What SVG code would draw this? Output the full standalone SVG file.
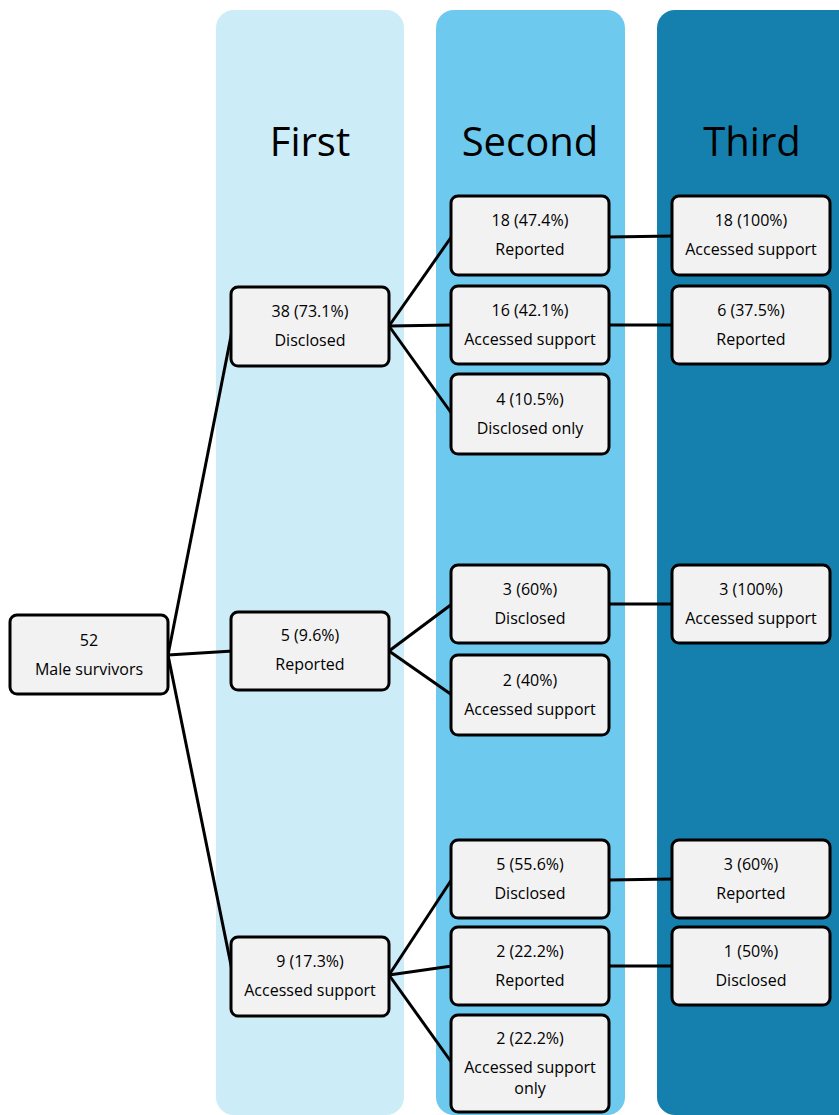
<svg xmlns="http://www.w3.org/2000/svg" width="839" height="1115" viewBox="0 0 839 1115">
<style>
.col{stroke:none}
.box{fill:#F2F2F2;stroke:#000;stroke-width:3}
.t{font-family:"Open Sans","Liberation Sans",sans-serif;font-size:16px;fill:#000;text-anchor:middle}
.h{font-family:"Open Sans","Liberation Sans",sans-serif;font-size:40px;fill:#000;text-anchor:middle}
.c{stroke:#000;stroke-width:3;fill:none}
</style>
<rect width="839" height="1115" fill="#fff"/>
<g id="columns">
<rect class="col" x="216" y="10" width="188" height="1105" rx="18" fill="#CCECF8"/>
<rect class="col" x="436" y="10" width="189" height="1105" rx="18" fill="#6DC9ED"/>
<rect class="col" x="657" y="10" width="200" height="1105" rx="18" fill="#1580AE"/>
<text class="h" x="310" y="156">First</text>
<text class="h" x="530" y="156">Second</text>
<text class="h" x="752" y="156">Third</text>
</g>
<g id="connectors">
<line class="c" x1="168" y1="655" x2="233" y2="326"/>
<line class="c" x1="168" y1="655" x2="233" y2="651"/>
<line class="c" x1="168" y1="655" x2="233" y2="975"/>
<line class="c" x1="389" y1="326" x2="452" y2="236"/>
<line class="c" x1="389" y1="326" x2="452" y2="325"/>
<line class="c" x1="389" y1="326" x2="452" y2="414"/>
<line class="c" x1="389" y1="651" x2="452" y2="604"/>
<line class="c" x1="389" y1="651" x2="452" y2="695"/>
<line class="c" x1="389" y1="975" x2="452" y2="879"/>
<line class="c" x1="389" y1="975" x2="452" y2="966"/>
<line class="c" x1="389" y1="975" x2="452" y2="1063"/>
<line class="c" x1="609" y1="237" x2="673" y2="236"/>
<line class="c" x1="609" y1="325" x2="673" y2="325"/>
<line class="c" x1="609" y1="604" x2="673" y2="604"/>
<line class="c" x1="609" y1="880" x2="673" y2="879"/>
<line class="c" x1="609" y1="966" x2="673" y2="966"/>
</g>
<g id="n-root"><rect class="box" x="10" y="615" width="158" height="79" rx="7"/><text class="t" x="89" y="646">52</text><text class="t" x="89" y="675">Male survivors</text></g>
<g id="n-first-disclosed"><rect class="box" x="231" y="287" width="158" height="79" rx="7"/><text class="t" x="310" y="317">38 (73.1%)</text><text class="t" x="310" y="346">Disclosed</text></g>
<g id="n-first-reported"><rect class="box" x="231" y="612" width="158" height="78" rx="7"/><text class="t" x="310" y="641">5 (9.6%)</text><text class="t" x="310" y="670">Reported</text></g>
<g id="n-first-accessed"><rect class="box" x="231" y="937" width="158" height="79" rx="7"/><text class="t" x="310" y="967">9 (17.3%)</text><text class="t" x="310" y="996">Accessed support</text></g>
<g id="n-s1"><rect class="box" x="451" y="196" width="158" height="79" rx="7"/><text class="t" x="530" y="226">18 (47.4%)</text><text class="t" x="530" y="255">Reported</text></g>
<g id="n-s2"><rect class="box" x="451" y="286" width="158" height="78" rx="7"/><text class="t" x="530" y="316">16 (42.1%)</text><text class="t" x="530" y="345">Accessed support</text></g>
<g id="n-s3"><rect class="box" x="451" y="374" width="158" height="80" rx="7"/><text class="t" x="530" y="405">4 (10.5%)</text><text class="t" x="530" y="434">Disclosed only</text></g>
<g id="n-s4"><rect class="box" x="451" y="565" width="158" height="78" rx="7"/><text class="t" x="530" y="595">3 (60%)</text><text class="t" x="530" y="624">Disclosed</text></g>
<g id="n-s5"><rect class="box" x="451" y="655" width="158" height="80" rx="7"/><text class="t" x="530" y="686">2 (40%)</text><text class="t" x="530" y="715">Accessed support</text></g>
<g id="n-s6"><rect class="box" x="451" y="840" width="158" height="78" rx="7"/><text class="t" x="530" y="870">5 (55.6%)</text><text class="t" x="530" y="899">Disclosed</text></g>
<g id="n-s7"><rect class="box" x="451" y="927" width="158" height="78" rx="7"/><text class="t" x="530" y="957">2 (22.2%)</text><text class="t" x="530" y="986">Reported</text></g>
<g id="n-s8"><rect class="box" x="451" y="1015" width="158" height="97" rx="7"/><text class="t" x="530" y="1044">2 (22.2%)</text><text class="t" x="530" y="1073">Accessed support</text><text class="t" x="530" y="1094">only</text></g>
<g id="n-t1"><rect class="box" x="672" y="196" width="158" height="79" rx="7"/><text class="t" x="751" y="226">18 (100%)</text><text class="t" x="751" y="255">Accessed support</text></g>
<g id="n-t2"><rect class="box" x="672" y="286" width="158" height="78" rx="7"/><text class="t" x="751" y="316">6 (37.5%)</text><text class="t" x="751" y="345">Reported</text></g>
<g id="n-t3"><rect class="box" x="672" y="565" width="158" height="78" rx="7"/><text class="t" x="751" y="595">3 (100%)</text><text class="t" x="751" y="624">Accessed support</text></g>
<g id="n-t4"><rect class="box" x="672" y="840" width="158" height="78" rx="7"/><text class="t" x="751" y="870">3 (60%)</text><text class="t" x="751" y="899">Reported</text></g>
<g id="n-t5"><rect class="box" x="672" y="927" width="158" height="78" rx="7"/><text class="t" x="751" y="957">1 (50%)</text><text class="t" x="751" y="986">Disclosed</text></g>
</svg>
